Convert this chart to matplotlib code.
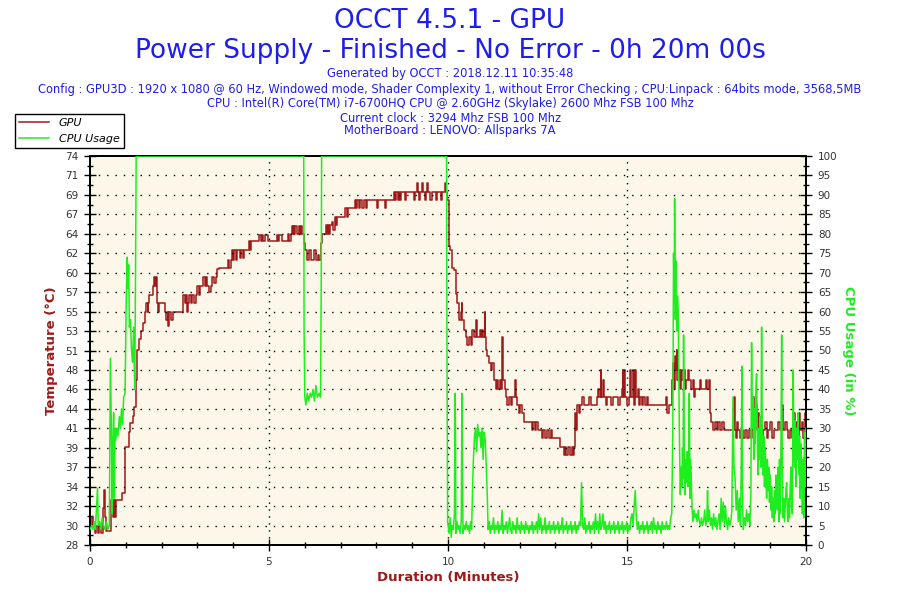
import matplotlib
matplotlib.use("Agg")
import matplotlib.pyplot as plt
from matplotlib.ticker import MultipleLocator, FixedLocator, FixedFormatter

# ---------------- data ----------------
gpu_t = [0.00,0.05,0.09,0.14,0.17,0.22,0.25,0.31,0.37,0.40,0.42,0.45,0.52,0.56,0.59,0.63,0.66,0.69,0.72,0.77,
         0.87,0.89,0.96,0.99,1.08,1.13,1.19,1.24,1.28,1.30,1.38,1.43,1.47,1.54,1.57,1.61,1.63,1.65,1.70,1.75,
         1.78,1.81,1.83,1.86,1.89,1.93,1.97,2.03,2.09,2.13,2.17,2.19,2.21,2.25,2.31,2.59,2.61,2.64,2.68,2.72,
         2.74,2.77,2.82,2.86,2.90,2.96,3.00,3.04,3.08,3.14,3.17,3.20,3.24,3.28,3.33,3.38,3.42,3.47,3.52,3.56,
         3.61,3.84,3.86,3.89,3.93,3.96,3.99,4.03,4.08,4.11,4.15,4.19,4.22,4.26,4.30,4.35,4.40,4.44,4.47,4.49,
         4.54,4.60,4.65,4.72,4.77,4.80,4.84,4.88,4.93,4.96,5.19,5.22,5.25,5.28,5.34,5.37,5.40,5.51,5.54,5.57,
         5.61,5.64,5.66,5.69,5.71,5.74,5.77,5.80,5.83,5.86,5.89,5.93,5.97,6.01,6.07,6.12,6.16,6.22,6.26,6.30,
         6.36,6.40,6.44,6.48,6.54,6.58,6.61,6.64,6.67,6.70,6.74,6.77,6.80,6.83,6.86,6.91,7.09,7.13,7.17,7.20,
         7.28,7.35,7.40,7.43,7.47,7.50,7.55,7.60,7.65,7.70,7.73,7.84,8.00,8.03,8.05,8.20,8.25,8.28,8.40,8.49,
         8.52,8.56,8.60,8.63,8.67,8.70,8.75,8.80,8.84,8.95,9.00,9.05,9.08,9.14,9.17,9.20,9.23,9.28,9.31,9.35,
         9.38,9.42,9.45,9.50,9.54,9.60,9.66,9.70,9.75,9.80,9.84,9.88,9.91,9.94,9.98,10.02,10.06,10.12,10.16,10.21,
         10.26,10.30,10.35,10.38,10.40,10.44,10.50,10.54,10.60,10.64,10.68,10.72,10.77,10.80,10.85,10.88,10.91,10.95,10.98,11.02,
         11.04,11.06,11.09,11.14,11.19,11.24,11.28,11.33,11.37,11.40,11.44,11.48,11.52,11.54,11.58,11.62,11.66,11.70,11.75,11.79,
         11.86,11.88,11.90,11.93,11.98,12.02,12.07,12.12,12.30,12.34,12.38,12.42,12.46,12.52,12.58,12.62,12.66,12.70,12.76,12.82,
         12.88,12.91,13.09,13.14,13.25,13.28,13.31,13.35,13.40,13.45,13.49,13.51,13.56,13.58,13.60,13.65,13.70,13.74,13.79,13.90,
         13.95,14.00,14.10,14.16,14.20,14.22,14.26,14.28,14.33,14.36,14.40,14.44,14.50,14.55,14.60,14.70,14.75,14.80,14.85,14.88,
         14.90,14.93,14.95,15.00,15.05,15.09,15.12,15.16,15.19,15.23,15.26,15.30,15.33,15.37,15.42,15.46,15.50,15.55,15.60,15.65,
         16.07,16.10,16.13,16.17,16.21,16.25,16.28,16.31,16.34,16.37,16.39,16.41,16.44,16.48,16.52,16.55,16.58,16.62,16.66,16.70,
         16.73,16.76,16.80,16.84,16.88,16.90,17.00,17.04,17.08,17.15,17.20,17.24,17.28,17.32,17.36,17.41,17.45,17.50,17.55,17.60,
         17.65,17.70,17.79,17.97,18.00,18.02,18.05,18.08,18.11,18.16,18.20,18.25,18.30,18.35,18.40,18.45,18.50,18.53,18.56,18.59,
         18.62,18.65,18.68,18.72,18.75,18.80,18.85,18.90,18.95,19.00,19.05,19.10,19.18,19.23,19.28,19.34,19.37,19.41,19.46,19.50,
         19.55,19.60,19.65,19.68,19.72,19.76,19.80,19.84,19.88,19.92,19.96,20.00]
gpu_v = [30.2,31.3,30.2,29.4,30.2,29.4,30.2,29.4,32.4,34.5,31.3,29.6,29.6,29.6,33.3,31.3,33.3,31.3,33.3,33.3,
         33.3,34.1,34.1,39.6,41.4,42.4,43.3,44.3,47.5,51.1,52.4,53.3,54.3,55.6,56.6,55.6,56.6,57.6,57.6,58.6,
         59.7,58.6,59.7,56.6,55.6,56.6,56.6,56.6,55.6,54.6,55.6,53.9,55.6,54.6,55.6,55.6,57.6,56.6,57.6,55.6,
         56.6,57.6,56.6,57.6,56.6,57.6,58.6,57.6,58.6,58.6,59.7,58.6,59.7,58.6,57.9,58.6,59.7,59.0,59.7,60.6,
         60.7,60.7,61.7,60.7,61.7,62.9,61.7,62.9,61.7,62.9,62.9,61.9,62.9,61.9,62.9,62.9,62.9,63.9,62.9,63.9,
         63.9,63.9,63.9,64.7,63.9,64.7,63.9,64.7,64.7,63.9,63.9,64.7,63.9,64.7,64.7,63.9,63.9,63.9,64.8,63.9,
         64.8,65.7,64.8,65.7,64.8,65.7,64.8,64.8,65.7,64.8,65.7,64.8,63.7,62.9,61.7,62.9,61.7,61.7,62.9,61.7,
         62.3,61.7,63.7,64.8,64.8,65.8,64.8,65.8,64.8,65.8,65.8,66.2,65.3,66.8,65.8,66.8,66.8,67.8,66.8,67.8,
         67.8,67.8,68.8,67.8,68.8,67.8,68.8,67.8,68.8,67.8,68.8,68.8,68.8,67.8,68.8,68.8,67.8,68.8,68.8,69.8,
         68.8,69.8,68.8,69.8,68.8,69.8,69.8,68.8,69.8,69.8,69.8,68.8,69.8,70.8,69.8,68.8,69.8,70.8,69.8,68.8,
         69.8,70.8,69.8,68.8,69.8,69.8,68.8,69.8,69.8,68.8,69.8,69.8,70.8,69.8,68.8,63.3,62.9,60.8,60.5,57.7,
         56.6,54.6,55.6,56.6,54.6,53.4,52.6,51.6,52.6,51.6,53.4,52.6,54.6,52.6,52.6,53.4,52.6,53.4,52.6,55.6,
         52.6,51.1,50.3,49.5,48.7,49.5,47.5,46.5,47.5,46.5,47.5,46.5,52.6,47.5,46.5,45.5,44.6,45.5,44.6,45.5,
         45.5,47.5,45.5,44.6,43.6,44.6,43.6,42.6,42.6,41.6,42.6,41.6,42.6,41.6,41.6,40.6,41.6,40.6,41.6,40.6,
         41.6,40.6,40.6,39.6,38.6,39.6,38.6,39.6,38.6,39.6,38.6,39.6,43.6,41.6,44.6,43.6,44.6,45.5,44.6,44.6,
         45.5,44.6,44.6,45.5,46.5,45.5,48.7,45.5,47.5,45.5,44.6,45.5,45.5,44.6,45.5,45.5,44.6,45.5,46.5,48.7,
         45.5,48.7,45.5,44.6,45.5,48.7,45.5,48.7,44.6,48.7,45.5,46.5,44.6,45.5,44.6,45.5,44.6,45.5,44.6,44.6,
         44.6,45.5,43.6,44.6,44.6,47.5,49.5,46.5,50.3,48.7,51.1,47.5,48.7,46.5,48.7,47.5,48.7,46.5,47.5,48.7,
         47.5,47.5,46.5,47.5,45.5,46.5,46.5,47.5,46.5,46.5,47.5,46.5,47.5,43.6,42.6,41.6,42.6,41.6,42.6,41.6,
         42.6,41.6,41.6,41.6,45.5,41.6,40.6,42.6,41.6,40.6,41.6,40.6,41.6,40.6,41.6,40.6,41.6,45.5,42.6,44.6,
         41.6,43.6,41.6,42.6,40.6,41.6,42.6,40.6,41.6,42.6,40.6,41.6,41.6,42.6,41.6,44.6,41.6,42.6,41.6,40.6,
         41.6,40.6,43.6,41.6,42.6,40.6,43.6,41.6,42.6,40.6,43.6,42.6]

cpu_t = [0.00,0.05,0.08,0.12,0.15,0.21,0.23,0.27,0.30,0.34,0.38,0.42,0.46,0.50,0.54,0.57,0.60,0.62,0.64,0.66,
         0.68,0.70,0.72,0.75,0.78,0.82,0.85,0.88,0.91,0.94,0.98,1.01,1.04,1.06,1.08,1.10,1.13,1.16,1.19,1.22,
         1.25,1.27,1.29,5.97,5.98,6.00,6.03,6.07,6.11,6.15,6.19,6.23,6.27,6.31,6.35,6.40,6.44,6.46,6.47,9.96,
         9.97,9.99,10.03,10.06,10.09,10.12,10.15,10.18,10.20,10.21,10.22,10.25,10.28,10.31,10.34,10.37,10.39,10.40,10.42,10.45,
         10.48,10.51,10.54,10.57,10.60,10.63,10.66,10.69,10.71,10.74,10.77,10.80,10.83,10.86,10.89,10.92,10.95,10.98,11.01,11.04,
         11.07,11.10,11.12,11.15,11.18,11.21,11.24,11.27,11.30,11.33,11.36,11.39,11.42,11.45,11.48,11.51,11.54,11.57,11.60,11.63,
         11.66,11.69,11.72,11.75,11.78,11.81,11.84,11.87,11.90,11.93,11.96,11.99,12.02,12.05,12.08,12.11,12.14,12.17,12.20,12.23,
         12.26,12.29,12.32,12.35,12.38,12.41,12.44,12.47,12.50,12.53,12.56,12.59,12.62,12.65,12.68,12.71,12.74,12.77,12.80,12.83,
         12.86,12.89,12.92,12.95,12.98,13.01,13.04,13.07,13.10,13.13,13.16,13.19,13.22,13.25,13.28,13.31,13.34,13.37,13.40,13.43,
         13.46,13.49,13.52,13.55,13.58,13.61,13.64,13.67,13.70,13.73,13.76,13.79,13.82,13.85,13.88,13.91,13.94,13.97,14.00,14.03,
         14.06,14.09,14.12,14.15,14.18,14.21,14.24,14.27,14.30,14.33,14.36,14.39,14.42,14.45,14.48,14.51,14.54,14.57,14.60,14.63,
         14.66,14.69,14.72,14.75,14.78,14.81,14.84,14.87,14.90,14.93,14.96,14.99,15.02,15.05,15.08,15.11,15.14,15.17,15.20,15.23,
         15.26,15.29,15.32,15.35,15.38,15.41,15.44,15.47,15.50,15.53,15.56,15.59,15.62,15.65,15.68,15.71,15.74,15.77,15.80,15.83,
         15.86,15.89,15.92,15.95,15.98,16.01,16.04,16.07,16.10,16.13,16.16,16.19,16.22,16.25,16.28,16.30,16.32,16.33,16.35,16.37,
         16.39,16.41,16.43,16.45,16.47,16.49,16.51,16.53,16.55,16.57,16.58,16.60,16.62,16.64,16.66,16.68,16.70,16.72,16.74,16.76,
         16.78,16.80,16.82,16.84,16.87,16.90,16.93,16.96,16.99,17.02,17.05,17.08,17.11,17.14,17.17,17.20,17.23,17.25,17.27,17.30,
         17.33,17.36,17.39,17.42,17.45,17.48,17.51,17.54,17.57,17.60,17.63,17.66,17.69,17.72,17.75,17.78,17.81,17.84,17.87,17.90,
         17.93,17.96,17.99,18.02,18.05,18.08,18.11,18.14,18.17,18.19,18.21,18.23,18.25,18.28,18.31,18.34,18.37,18.40,18.43,18.46,
         18.48,18.50,18.52,18.54,18.56,18.58,18.60,18.62,18.64,18.66,18.68,18.70,18.72,18.74,18.76,18.78,18.80,18.82,18.84,18.86,
         18.88,18.90,18.92,18.94,18.96,18.98,19.00,19.02,19.04,19.06,19.08,19.10,19.12,19.14,19.16,19.18,19.20,19.22,19.24,19.26,
         19.28,19.30,19.32,19.34,19.36,19.38,19.40,19.42,19.44,19.46,19.48,19.50,19.52,19.54,19.56,19.58,19.60,19.62,19.64,19.66,
         19.68,19.70,19.72,19.74,19.76,19.78,19.80,19.82,19.84,19.86,19.88,19.90,19.92,19.94,19.96,19.98,20.00]
cpu_v = [4,5,4,6,4,14.6,5,6,4,7,5,4,6,4,5,48,28,8,26,34,
         12,30,27,30,28,33,30,35,31,38,39,62,74,66,72,56,58,50,47,56,
         40,67,100,100,55,38,36,39,37,39,38,40,37,41,38,39,38,69,100,100,
         53,6,3,7,2,5,4,8,39,28,3,6,4,5,3,6,39,25,3,5,
         4,6,4,5,3,6,4,16,22,28,30,24,31,28,29,25,30,22,29,27,
         20,12,4,6,3,5,4,7,3,5,4,6,3,5,4,9,3,5,4,6,
         3,5,7,4,3,6,4,5,3,7,4,5,3,6,4,5,3,6,4,5,
         3,5,4,6,3,5,4,6,3,8,4,7,3,5,4,7,3,5,4,6,
         3,5,4,6,3,5,4,6,3,5,4,7,3,5,4,6,3,5,4,6,
         3,5,4,6,3,5,4,6,5,16,5,4,7,3,5,4,6,3,5,4,
         6,3,8,4,6,3,8,4,5,8,4,6,3,5,4,6,3,5,4,6,
         3,5,4,6,3,5,4,6,3,5,4,6,3,5,4,7,8,5,10,14,
         7,4,6,3,5,4,6,3,5,4,6,3,5,4,6,3,7,4,5,3,
         6,4,5,3,6,4,5,4,6,4,5,4,7,8,30,75,62,89,58,73,
         55,64,60,40,24,13,20,15,25,17,54,20,13,22,16,24,15,18,39,12,
         22,15,9,6,9,7,8,6,9,6,5,7,5,6,9,5,7,14,6,9,
         5,7,4,8,5,7,4,6,8,4,12,6,11,5,10,6,4,7,5,6,
         9,38,20,17,9,14,6,12,5,20,46,10,4,7,5,9,6,8,5,13,
         52,30,38,22,35,26,40,44,28,18,30,22,33,20,56,25,18,28,15,25,
         19,12,22,14,20,11,18,9,15,7,12,6,14,8,18,15,9,20,6,22,
         8,25,54,15,7,12,6,10,14,16,8,6,12,7,15,20,10,8,45,28,
         20,32,15,30,22,34,18,28,12,26,20,8,22,7,29,15,30]

temp_tick_labels = ["28","30","32","34","37","39","41","44","46","48","51",
                    "53","55","57","60","62","64","67","69","71","74"]
cpu_tick_values = [0,5,10,15,20,25,30,35,40,45,50,55,60,65,70,75,80,85,90,95,100]
x_tick_values = [0,5,10,15,20]

title1 = "OCCT 4.5.1 - GPU"
title2 = "Power Supply - Finished - No Error - 0h 20m 00s"
info_lines = ["Generated by OCCT : 2018.12.11 10:35:48",
              "Config : GPU3D : 1920 x 1080 @ 60 Hz, Windowed mode, Shader Complexity 1, without Error Checking ; CPU:Linpack : 64bits mode, 3568,5MB",
              "CPU : Intel(R) Core(TM) i7-6700HQ CPU @ 2.60GHz (Skylake) 2600 Mhz FSB 100 Mhz",
              "Current clock : 3294 Mhz FSB 100 Mhz",
              "MotherBoard : LENOVO: Allsparks 7A"]

# ---------------- style ----------------
RED = "#9E1A1A"
GREEN = "#1EEE1E"
BLUE = "#1E1EEB"
BG = "#FDF7EA"
plt.rcParams['font.family'] = ['DejaVu Sans']

fig = plt.figure(figsize=(9, 6), dpi=100)
W, H = 900, 600
ax = fig.add_axes([90 / W, 1 - 545 / H, (806 - 90) / W, (545 - 156) / H])
ax.set_facecolor(BG)
ax2 = ax.twinx()

ax.set_xlim(0, 20)
ax.set_ylim(28, 74)
ax2.set_ylim(0, 100)

# grid (dotted)
ax2.set_yticks(cpu_tick_values)
ax2.yaxis.set_minor_locator(MultipleLocator(2.5))
for v in cpu_tick_values[1:-1]:
    ax2.axhline(v, color="black", lw=1.0, ls=(0, (1, 5)), zorder=0.5)
for xv in x_tick_values[1:-1]:
    ax.axvline(xv, color="black", lw=1.0, ls=(0, (1, 4)), zorder=0.5)

ax.plot(gpu_t, gpu_v, color=RED, lw=1.1, drawstyle="steps-post", zorder=2, label="GPU")
ax2.plot(cpu_t, cpu_v, color=GREEN, lw=1.1, zorder=3, label="CPU Usage")

# ticks
temp_ticks = [28 + i * 2.3 for i in range(len(temp_tick_labels))]
ax.yaxis.set_major_locator(FixedLocator(temp_ticks))
ax.yaxis.set_major_formatter(FixedFormatter(temp_tick_labels))
ax.yaxis.set_minor_locator(FixedLocator([t + 1.15 for t in temp_ticks[:-1]]))
ax.set_xticks(x_tick_values)
ax.xaxis.set_minor_locator(MultipleLocator(1))

for a in (ax, ax2):
    a.tick_params(which="major", direction="inout", length=9, width=1, colors="black",
                  labelsize=7.5, labelcolor="#333333", pad=4)
    a.tick_params(which="minor", direction="inout", length=5, width=1, colors="black")
    for s in a.spines.values():
        s.set_linewidth(1.3)
        s.set_color("black")

ax.set_ylabel("Temperature (°C)", color=RED, fontsize=9.5, fontweight="bold", labelpad=5)
ax2.set_ylabel("CPU Usage (in %)", color=GREEN, fontsize=9.5, fontweight="bold",
               rotation=-90, labelpad=13)
ax.set_xlabel("Duration (Minutes)", color=RED, fontsize=9.5, fontweight="bold", labelpad=3)

# titles
fig.text(0.5, 1 - 21 / H, title1, ha="center", va="center", color=BLUE, fontsize=19)
fig.text(0.5, 1 - 51 / H, title2, ha="center", va="center", color=BLUE, fontsize=19)
ys = [74, 90, 104, 118, 131]
for y, line in zip(ys, info_lines):
    fig.text(0.5, 1 - y / H, line, ha="center", va="center", color=BLUE, fontsize=8.3)

# legend
h1, l1 = ax.get_legend_handles_labels()
h2, l2 = ax2.get_legend_handles_labels()
leg = fig.legend(h1 + h2, l1 + l2, loc="upper left", bbox_to_anchor=(15 / W, 1 - 114 / H),
                 fancybox=False, frameon=True, edgecolor="black", framealpha=1,
                 prop={"style": "italic", "size": 8.0}, handlelength=2.7,
                 borderpad=0.35, labelspacing=0.55, handletextpad=0.9, borderaxespad=0)
leg.get_frame().set_linewidth(1.0)

fig.savefig("out.png", dpi=100, facecolor="white")
